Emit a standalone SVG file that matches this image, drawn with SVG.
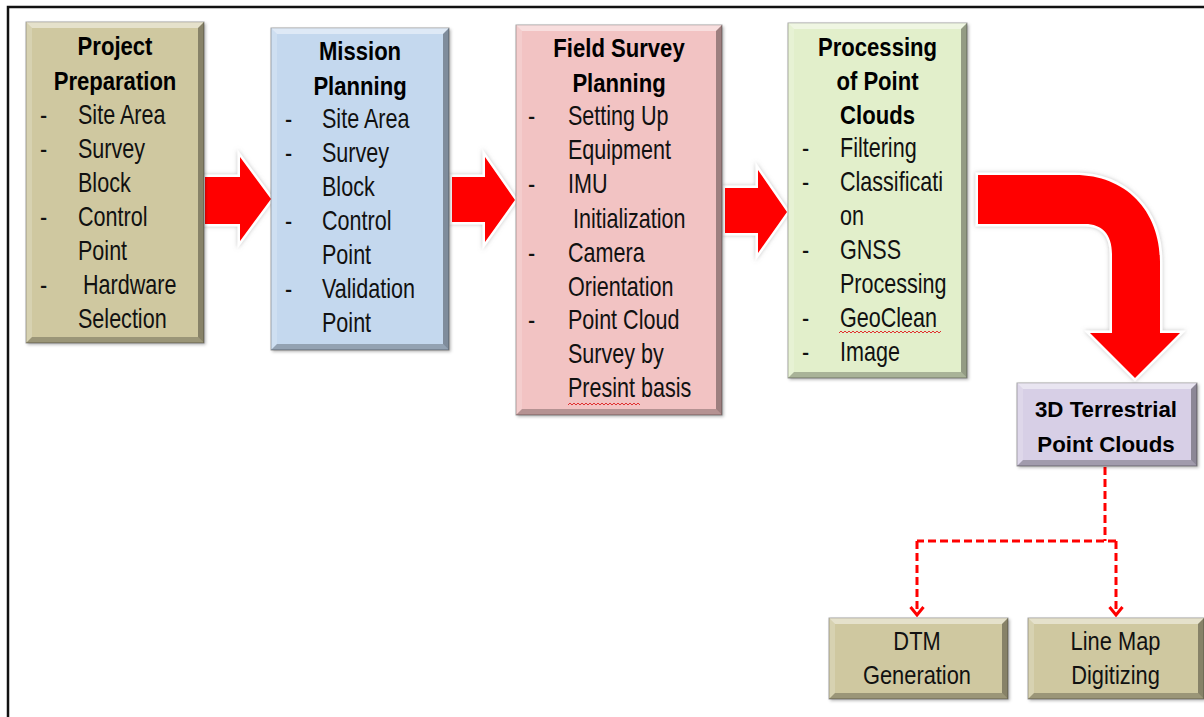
<svg xmlns="http://www.w3.org/2000/svg" width="1204" height="717" viewBox="0 0 1204 717">
<defs>
<style>
.t{font-family:"Liberation Sans",Arial,sans-serif;font-weight:bold;font-size:26px;fill:#000;text-anchor:middle}
.b{font-family:"Liberation Sans",Arial,sans-serif;font-size:28px;fill:#111}
.c{font-family:"Liberation Sans",Arial,sans-serif;font-size:26px;fill:#111;text-anchor:middle}
.t5{font-family:"Liberation Sans",Arial,sans-serif;font-weight:bold;font-size:23px;fill:#000;text-anchor:middle}
.box{stroke:rgba(0,0,0,0.35);stroke-width:1;filter:url(#sh)}
.bt{fill:#fff;fill-opacity:0.45}
.bl{fill:#fff;fill-opacity:0.18}
.br{fill:#000;fill-opacity:0.35}
.bb{fill:#000;fill-opacity:0.25}
.arr{fill:#ff0000;stroke:#fff;stroke-width:5;stroke-linejoin:miter;paint-order:stroke;filter:url(#gl)}
.dash{fill:none;stroke:#ff0000;stroke-width:3;stroke-dasharray:8 4}
.sq{fill:none;stroke:#e03030;stroke-width:1}
</style>
<filter id="sh" x="-10%" y="-10%" width="130%" height="130%">
<feDropShadow dx="1.5" dy="1.5" stdDeviation="1.5" flood-color="#000" flood-opacity="0.3"/>
</filter>
<filter id="gl" x="-20%" y="-20%" width="140%" height="140%">
<feDropShadow dx="0" dy="0" stdDeviation="2" flood-color="#888" flood-opacity="0.5"/>
</filter>
<marker id="chev" viewBox="0 0 12 16" refX="10" refY="8" markerWidth="12" markerHeight="16" markerUnits="userSpaceOnUse" orient="auto">
<path d="M2,1.5 L10,8 L2,14.5" fill="none" stroke="#ff0000" stroke-width="3"/>
</marker>
</defs>
<rect width="1204" height="717" fill="#fff"/>
<path d="M8,717 V7 H1204" fill="none" stroke="#111" stroke-width="2.5"/>

<g id="connectors">
<path class="arr" d="M205,177 H240 V157 L271,199 L240,241 V224 H205 Z"/>
<path class="arr" d="M452,177 H485 V157 L515,200 L485,242 V222 H452 Z"/>
<path class="arr" d="M725,188 H758 V170 L787,212 L758,253 V233 H725 Z"/>
<path class="arr" d="M978,175 H1075 C1125,175 1160,210 1160,262 V333 H1180 L1135,378 L1090,333 H1112 V254 C1112,234 1102,224 1085,224 H978 Z"/>
<path class="dash" d="M1105,467 V541"/>
<path class="dash" d="M1116,541 H917"/>
<path class="dash" d="M917,541 V615" marker-end="url(#chev)"/>
<path class="dash" d="M1116,541 V615" marker-end="url(#chev)"/>
</g>

<g id="node-project-preparation">
<rect class="box" x="26" y="22" width="178" height="321" fill="#cfc8a0"/>
<polygon class="bt" points="26,22 204,22 198,28 32,28"/>
<polygon class="bl" points="26,22 32,28 32,337 26,343"/>
<polygon class="br" points="204,22 204,343 198,337 198,28"/>
<polygon class="bb" points="26,343 204,343 198,337 32,337"/>
<text class="t" transform="matrix(0.85 0 0 1 115 0)"><tspan x="0" y="55">Project</tspan><tspan x="0" y="90">Preparation</tspan></text>
<text class="b" transform="matrix(0.77 0 0 1 40 0)"><tspan x="0" y="124">-</tspan><tspan x="0" y="158">-</tspan><tspan x="0" y="226">-</tspan><tspan x="0" y="294">-</tspan></text>
<text class="b" transform="matrix(0.77 0 0 1 78 0)"><tspan x="0" y="124">Site Area</tspan><tspan x="0" y="158">Survey</tspan><tspan x="0" y="192">Block</tspan><tspan x="0" y="226">Control</tspan><tspan x="0" y="260">Point</tspan><tspan x="6.5" y="294">Hardware</tspan><tspan x="0" y="328">Selection</tspan></text>
</g>

<g id="node-mission-planning">
<rect class="box" x="271" y="28" width="178" height="322" fill="#c4d8ee"/>
<polygon class="bt" points="271,28 449,28 443,34 277,34"/>
<polygon class="bl" points="271,28 277,34 277,344 271,350"/>
<polygon class="br" points="449,28 449,350 443,344 443,34"/>
<polygon class="bb" points="271,350 449,350 443,344 277,344"/>
<text class="t" transform="matrix(0.85 0 0 1 360 0)"><tspan x="0" y="60">Mission</tspan><tspan x="0" y="95">Planning</tspan></text>
<text class="b" transform="matrix(0.77 0 0 1 285 0)"><tspan x="0" y="128">-</tspan><tspan x="0" y="162">-</tspan><tspan x="0" y="230">-</tspan><tspan x="0" y="298">-</tspan></text>
<text class="b" transform="matrix(0.77 0 0 1 322 0)"><tspan x="0" y="128">Site Area</tspan><tspan x="0" y="162">Survey</tspan><tspan x="0" y="196">Block</tspan><tspan x="0" y="230">Control</tspan><tspan x="0" y="264">Point</tspan><tspan x="0" y="298">Validation</tspan><tspan x="0" y="332">Point</tspan></text>
</g>

<g id="node-field-survey-planning">
<rect class="box" x="516" y="25" width="206" height="390" fill="#f2c3c3"/>
<polygon class="bt" points="516,25 722,25 716,31 522,31"/>
<polygon class="bl" points="516,25 522,31 522,409 516,415"/>
<polygon class="br" points="722,25 722,415 716,409 716,31"/>
<polygon class="bb" points="516,415 722,415 716,409 522,409"/>
<text class="t" transform="matrix(0.85 0 0 1 619 0)"><tspan x="0" y="57">Field Survey</tspan><tspan x="0" y="92">Planning</tspan></text>
<text class="b" transform="matrix(0.77 0 0 1 528 0)"><tspan x="0" y="125">-</tspan><tspan x="0" y="193">-</tspan><tspan x="0" y="262">-</tspan><tspan x="0" y="329">-</tspan></text>
<text class="b" transform="matrix(0.77 0 0 1 568 0)"><tspan x="0" y="125">Setting Up</tspan><tspan x="0" y="159">Equipment</tspan><tspan x="0" y="193">IMU</tspan><tspan x="6.5" y="228">Initialization</tspan><tspan x="0" y="262">Camera</tspan><tspan x="0" y="296">Orientation</tspan><tspan x="0" y="329">Point Cloud</tspan><tspan x="0" y="363">Survey by</tspan><tspan x="0" y="397">Presint basis</tspan></text>
<path class="sq" d="M568,405 l2,-2 l2,2 l2,-2 l2,2 l2,-2 l2,2 l2,-2 l2,2 l2,-2 l2,2 l2,-2 l2,2 l2,-2 l2,2 l2,-2 l2,2 l2,-2 l2,2 l2,-2 l2,2 l2,-2 l2,2 l2,-2 l2,2 l2,-2 l2,2 l2,-2 l2,2 l2,-2 l2,2 l2,-2 l2,2 l2,-2 l2,2 l2,-2 l2,2"/>
</g>

<g id="node-processing-point-clouds">
<rect class="box" x="788" y="23" width="179" height="355" fill="#e2efcb"/>
<polygon class="bt" points="788,23 967,23 961,29 794,29"/>
<polygon class="bl" points="788,23 794,29 794,372 788,378"/>
<polygon class="br" points="967,23 967,378 961,372 961,29"/>
<polygon class="bb" points="788,378 967,378 961,372 794,372"/>
<text class="t" transform="matrix(0.85 0 0 1 877.5 0)"><tspan x="0" y="56">Processing</tspan><tspan x="0" y="90">of Point</tspan><tspan x="0" y="124">Clouds</tspan></text>
<text class="b" transform="matrix(0.77 0 0 1 802 0)"><tspan x="0" y="157">-</tspan><tspan x="0" y="191">-</tspan><tspan x="0" y="259">-</tspan><tspan x="0" y="327">-</tspan><tspan x="0" y="361">-</tspan></text>
<text class="b" transform="matrix(0.77 0 0 1 840 0)"><tspan x="0" y="157">Filtering</tspan><tspan x="0" y="191">Classificati</tspan><tspan x="0" y="225">on</tspan><tspan x="0" y="259">GNSS</tspan><tspan x="0" y="293">Processing</tspan><tspan x="0" y="327">GeoClean</tspan><tspan x="0" y="361">Image</tspan></text>
<path class="sq" d="M839,333 l2,-2 l2,2 l2,-2 l2,2 l2,-2 l2,2 l2,-2 l2,2 l2,-2 l2,2 l2,-2 l2,2 l2,-2 l2,2 l2,-2 l2,2 l2,-2 l2,2 l2,-2 l2,2 l2,-2 l2,2 l2,-2 l2,2 l2,-2 l2,2 l2,-2 l2,2 l2,-2 l2,2 l2,-2 l2,2 l2,-2 l2,2 l2,-2 l2,2 l2,-2 l2,2 l2,-2 l2,2 l2,-2 l2,2 l2,-2 l2,2 l2,-2 l2,2 l2,-2 l2,2 l2,-2 l2,2 l2,-2"/>
</g>

<g id="node-3d-terrestrial-point-clouds">
<rect class="box" x="1017" y="383" width="180" height="83" fill="#d7cfe6"/>
<polygon class="bt" points="1017,383 1197,383 1191,389 1023,389"/>
<polygon class="bl" points="1017,383 1023,389 1023,460 1017,466"/>
<polygon class="br" points="1197,383 1197,466 1191,460 1191,389"/>
<polygon class="bb" points="1017,466 1197,466 1191,460 1023,460"/>
<text class="t5" transform="matrix(0.97 0 0 1 1106 0)"><tspan x="0" y="417">3D Terrestrial</tspan><tspan x="0" y="452">Point Clouds</tspan></text>
</g>

<g id="node-dtm-generation">
<rect class="box" x="829" y="618" width="179" height="81" fill="#cfc8a0"/>
<polygon class="bt" points="829,618 1008,618 1002,624 835,624"/>
<polygon class="bl" points="829,618 835,624 835,693 829,699"/>
<polygon class="br" points="1008,618 1008,699 1002,693 1002,624"/>
<polygon class="bb" points="829,699 1008,699 1002,693 835,693"/>
<text class="c" transform="matrix(0.84 0 0 1 917 0)"><tspan x="0" y="650">DTM</tspan><tspan x="0" y="684">Generation</tspan></text>
</g>

<g id="node-line-map-digitizing">
<rect class="box" x="1028" y="618" width="176" height="81" fill="#cfc8a0"/>
<polygon class="bt" points="1028,618 1204,618 1198,624 1034,624"/>
<polygon class="bl" points="1028,618 1034,624 1034,693 1028,699"/>
<polygon class="br" points="1204,618 1204,699 1198,693 1198,624"/>
<polygon class="bb" points="1028,699 1204,699 1198,693 1034,693"/>
<text class="c" transform="matrix(0.84 0 0 1 1115.5 0)"><tspan x="0" y="650">Line Map</tspan><tspan x="0" y="684">Digitizing</tspan></text>
</g>
</svg>
